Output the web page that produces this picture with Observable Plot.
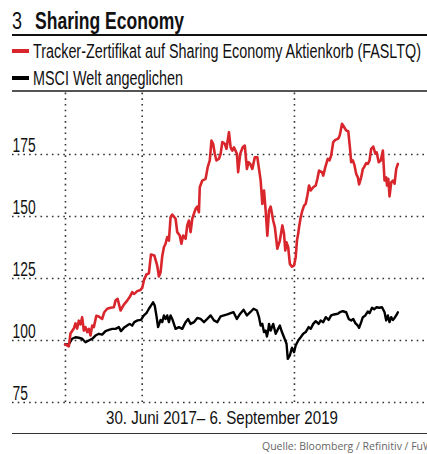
<!DOCTYPE html>
<html>
<head>
<meta charset="utf-8">
<script src="https://cdn.jsdelivr.net/npm/d3@7"></script>
<script src="https://cdn.jsdelivr.net/npm/@observablehq/plot@0.6"></script>
<style>
  html, body { margin: 0; padding: 0; background: #fff; overflow: hidden; }
  #page { position: relative; width: 427px; height: 454px; overflow: hidden; font-family: "Liberation Sans", Arial, sans-serif; color: #111; }
  .abs { position: absolute; white-space: nowrap; }
  .cond { display: inline-block; transform-origin: 0 0; }
  .rule { position: absolute; left: 12px; width: 415px; }
  #chart { position: absolute; left: 0; top: 92px; }
</style>
</head>
<body>
<div id="page">
  <div class="abs" style="left:12px; top:8.7px; font-size:24px; line-height:24px;"><span class="cond" id="num" data-w="10"></span></div>
  <div class="abs" style="left:35px; top:8.7px; font-size:24px; line-height:24px; font-weight:bold;"><span class="cond" id="title" data-w="149"></span></div>
  <div class="rule" style="top:34px; height:2px; background:#111;"></div>
  <div class="abs" id="sw1" style="left:12px; top:49px; width:17px; height:4px;"></div>
  <div class="abs" style="left:33px; top:40.6px; font-size:20px; line-height:20px;"><span class="cond" id="lg1" data-w="388"></span></div>
  <div class="abs" id="sw2" style="left:12px; top:75.5px; width:17px; height:4px;"></div>
  <div class="abs" style="left:33px; top:68px; font-size:20px; line-height:20px;"><span class="cond" id="lg2" data-w="150"></span></div>
  <div class="rule" style="top:90px; height:1.5px; background:#555;"></div>
  <div id="chart"></div>
  <div class="abs" style="left:106px; top:408.5px; font-size:18.5px; line-height:18.5px;"><span class="cond" id="period" data-w="232"></span></div>
  <div class="rule" style="top:433px; height:1px; background:#333;"></div>
  <div class="abs" id="source" style="left:262px; top:440px; font-family:'Open Sans', sans-serif; font-size:10.5px; line-height:12px; color:#666;"></div>
</div>
<script>
// ---- Data ----
const chartNumber = "3";
const chartTitle = "Sharing Economy";
const seriesNames = ["Tracker-Zertifikat auf Sharing Economy Aktienkorb (FASLTQ)", "MSCI Welt angeglichen"];
const seriesColors = ["#d9262c", "#000000"];
const periodLabel = "30. Juni 2017– 6. September 2019";
const sourceLabel = "Quelle: Bloomberg / Refinitiv / FuW";
const yTicks = [75, 100, 125, 150, 175];
const xGridDates = ["2017-07-01", "2018-01-01", "2019-01-01"];

const redDates = ["2017-06-30","2017-07-09","2017-07-13","2017-07-21","2017-07-25","2017-07-29","2017-08-02","2017-08-06","2017-08-10","2017-08-14","2017-08-18","2017-08-22","2017-08-26","2017-08-30","2017-09-03","2017-09-07","2017-09-13","2017-09-19","2017-09-27","2017-10-02","2017-10-09","2017-10-17","2017-10-25","2017-10-29","2017-11-03","2017-11-06","2017-11-10","2017-11-18","2017-11-26","2017-12-02","2017-12-08","2017-12-13","2017-12-20","2017-12-28","2018-01-01","2018-01-05","2018-01-11","2018-01-17","2018-01-22","2018-01-30","2018-02-06","2018-02-10","2018-02-14","2018-02-18","2018-02-22","2018-02-26","2018-03-02","2018-03-06","2018-03-10","2018-03-14","2018-03-22","2018-03-26","2018-04-01","2018-04-05","2018-04-09","2018-04-15","2018-04-19","2018-04-23","2018-04-27","2018-05-01","2018-05-05","2018-05-09","2018-05-13","2018-05-17","2018-05-19","2018-05-25","2018-06-02","2018-06-07","2018-06-12","2018-06-16","2018-06-20","2018-06-24","2018-06-28","2018-07-04","2018-07-08","2018-07-12","2018-07-18","2018-07-22","2018-07-28","2018-08-01","2018-08-05","2018-08-09","2018-08-16","2018-08-19","2018-08-24","2018-08-30","2018-09-04","2018-09-09","2018-09-13","2018-09-17","2018-09-22","2018-09-28","2018-10-04","2018-10-08","2018-10-12","2018-10-16","2018-10-20","2018-10-24","2018-10-28","2018-11-01","2018-11-05","2018-11-11","2018-11-15","2018-11-21","2018-11-27","2018-12-03","2018-12-07","2018-12-10","2018-12-13","2018-12-17","2018-12-21","2018-12-26","2018-12-31","2019-01-04","2019-01-07","2019-01-10","2019-01-12","2019-01-16","2019-01-20","2019-01-24","2019-01-28","2019-02-01","2019-02-05","2019-02-09","2019-02-15","2019-02-21","2019-02-25","2019-03-01","2019-03-08","2019-03-11","2019-03-16","2019-03-22","2019-03-26","2019-03-30","2019-04-04","2019-04-09","2019-04-15","2019-04-18","2019-04-20","2019-04-25","2019-05-01","2019-05-05","2019-05-10","2019-05-14","2019-05-17","2019-05-21","2019-05-25","2019-05-29","2019-06-02","2019-06-05","2019-06-10","2019-06-14","2019-06-17","2019-06-22","2019-06-26","2019-06-30","2019-07-04","2019-07-09","2019-07-14","2019-07-17","2019-07-22","2019-07-27","2019-08-01","2019-08-05","2019-08-09","2019-08-11","2019-08-14","2019-08-17","2019-08-21","2019-08-25","2019-08-29","2019-09-02","2019-09-06"];
const redValues = [98.4,97.6,102.8,104.8,106.9,104.8,108,106.5,109.4,104,105.4,103.4,104.7,102,106,105.4,110,109.7,108.7,111.4,112.8,113.2,113.4,116.1,116.8,114.8,112.1,114.5,116.1,117.5,119.5,118.8,119.9,120.4,121.2,124.2,126.6,127.1,134.7,134.3,130.2,125.8,127.5,134,137.6,139,141.7,140.3,149.7,150.8,149.1,143.7,142.3,139,142.3,141,146.4,148.4,143.7,149.1,151.1,153.1,154,151.7,161.8,164.5,165.2,169.9,172.6,180.6,179.3,175.3,172.6,173.3,175.3,180,179.3,177.3,184,177.9,176.6,177.9,175.3,167.9,175.3,177.9,178.6,169.2,171.9,171.2,169.2,173.9,173.9,169.2,164.5,155.1,160.5,152.4,142.3,152.4,154,148.4,145.7,137,140.3,146.4,143,136.3,139.6,137.6,130.9,129.8,130.2,133.6,140.3,143,145.7,149.7,152.4,154.4,155.1,158.5,162.5,160.5,161.8,162.5,165.2,168.5,167.9,166.5,169.9,173.3,172.6,174.6,180,180.9,181.3,182,183,187.4,185.8,184.7,184.4,177.9,171.9,172.6,170.6,167.2,165.8,162.9,165.8,169.2,169.9,171.5,171.2,172.6,177.3,178.2,175.3,175.9,171.9,172.6,176.6,164.5,165.8,162.5,165.2,158.1,163.8,164.5,163.2,169.2,171.2];

const blackDates = ["2017-06-30","2017-07-09","2017-07-17","2017-07-25","2017-08-02","2017-08-10","2017-08-18","2017-08-26","2017-09-03","2017-09-11","2017-09-19","2017-09-27","2017-10-05","2017-10-13","2017-10-21","2017-10-29","2017-11-06","2017-11-11","2017-11-18","2017-11-26","2017-12-02","2017-12-08","2017-12-13","2017-12-21","2017-12-29","2018-01-05","2018-01-11","2018-01-17","2018-01-22","2018-01-27","2018-01-31","2018-02-04","2018-02-08","2018-02-14","2018-02-18","2018-02-22","2018-02-26","2018-03-02","2018-03-06","2018-03-10","2018-03-14","2018-03-22","2018-03-30","2018-04-07","2018-04-15","2018-04-21","2018-04-27","2018-05-05","2018-05-13","2018-05-21","2018-05-29","2018-06-06","2018-06-14","2018-06-22","2018-06-30","2018-07-08","2018-07-16","2018-07-24","2018-08-01","2018-08-08","2018-08-16","2018-08-24","2018-09-01","2018-09-09","2018-09-17","2018-09-25","2018-10-03","2018-10-08","2018-10-12","2018-10-16","2018-10-20","2018-10-24","2018-10-27","2018-10-30","2018-11-01","2018-11-05","2018-11-11","2018-11-17","2018-11-24","2018-11-27","2018-12-02","2018-12-07","2018-12-13","2018-12-16","2018-12-21","2018-12-26","2018-12-31","2019-01-04","2019-01-10","2019-01-16","2019-01-22","2019-01-28","2019-02-04","2019-02-09","2019-02-15","2019-02-21","2019-02-28","2019-03-05","2019-03-11","2019-03-17","2019-03-24","2019-03-30","2019-04-06","2019-04-15","2019-04-20","2019-04-27","2019-05-05","2019-05-11","2019-05-17","2019-05-22","2019-05-27","2019-06-02","2019-06-05","2019-06-10","2019-06-14","2019-06-20","2019-06-26","2019-06-30","2019-07-06","2019-07-11","2019-07-17","2019-07-23","2019-07-30","2019-08-05","2019-08-09","2019-08-13","2019-08-17","2019-08-21","2019-08-25","2019-08-29","2019-09-02","2019-09-06"];
const blackValues = [98.4,98.4,100.7,101.3,101.1,100.7,99.3,100,100.7,102,102.7,102.4,103.8,104.3,104.7,104.7,105.4,103.8,105.1,106,106.7,106,107.4,108.1,108.3,110.1,111,112.8,114.1,115.4,114.1,110.1,105.4,108.3,107.4,110.1,108.7,110.1,107.4,110.1,108.7,104.7,105.4,104.7,107.4,108.7,106.7,107.4,109.1,108.7,107.4,108.7,110.1,108.1,107.4,109.7,110.1,110.5,111,111.4,108.7,110.8,112.4,110.1,111.4,112.8,112.1,109.4,106,106.7,103.4,104,101.6,104,106.7,104,106.7,102.7,105.1,106,103.4,101.3,98.7,92.6,94,97.1,95.3,98,100,101.3,102.7,103.4,105.4,104.7,106.7,107.8,106.7,108.1,107.4,109.4,108.3,110.1,110.5,110.8,111.4,111.8,111.4,108.7,108.1,108.7,107,106,105.1,107.4,109.4,110.1,111.7,111,113.2,112.6,113.4,113.2,113.4,111.4,108.1,110.1,107.4,109.4,108.3,109.1,110.1,111.4];

// ---- Build ----
const parse = d3.utcParse("%Y-%m-%d");
const red = redDates.map((d, i) => ({date: parse(d), value: redValues[i]}));
const black = blackDates.map((d, i) => ({date: parse(d), value: blackValues[i]}));
const xGrid = xGridDates.map(parse);

document.getElementById("sw1").style.background = seriesColors[0];
document.getElementById("sw2").style.background = seriesColors[1];
document.getElementById("num").textContent = chartNumber;
document.getElementById("title").textContent = chartTitle;
document.getElementById("lg1").textContent = seriesNames[0];
document.getElementById("lg2").textContent = seriesNames[1];
document.getElementById("period").textContent = periodLabel;
document.getElementById("source").textContent = sourceLabel;

// condense text horizontally (emulates a condensed typeface)
document.querySelectorAll(".cond").forEach(el => {
  const w = el.getBoundingClientRect().width;
  const target = +el.dataset.w;
  if (w > 0) el.style.transform = `scaleX(${target / w})`;
});

const condensed = 0.71;
const chart = Plot.plot({
  width: 427,
  height: 314,
  marginLeft: 12,
  marginRight: 0,
  marginTop: 0,
  marginBottom: 4,
  x: {type: "utc", domain: [parse("2017-02-24"), parse("2019-11-16")], axis: null},
  y: {domain: [75, 200], axis: null},
  style: {fontFamily: "'Liberation Sans', Arial, sans-serif", background: "transparent", overflow: "visible"},
  marks: [
    Plot.ruleY(yTicks, {stroke: "#333", strokeWidth: 1.6, strokeDasharray: "1.6,4.1"}),
    Plot.ruleX(xGrid, {y1: 75, y2: 200, stroke: "#333", strokeWidth: 1.6, strokeDasharray: "1.6,4.1"}),
    Plot.text(yTicks, {y: d => d, text: d => String(d), frameAnchor: "left", textAnchor: "start", lineAnchor: "bottom", dy: -3, fontSize: 19.5, fill: "#111"}),
    Plot.line(black, {x: "date", y: "value", stroke: seriesColors[1], strokeWidth: 2.4, strokeLinejoin: "round"}),
    Plot.line(red, {x: "date", y: "value", stroke: seriesColors[0], strokeWidth: 2.6, strokeLinejoin: "round"})
  ]
});
document.getElementById("chart").appendChild(chart);
// condense the y labels
d3.select(chart).selectAll("text").each(function() {
  const w = this.getComputedTextLength();
  this.setAttribute("textLength", (w * condensed).toFixed(2));
  this.setAttribute("lengthAdjust", "spacingAndGlyphs");
});
</script>
</body>
</html>
